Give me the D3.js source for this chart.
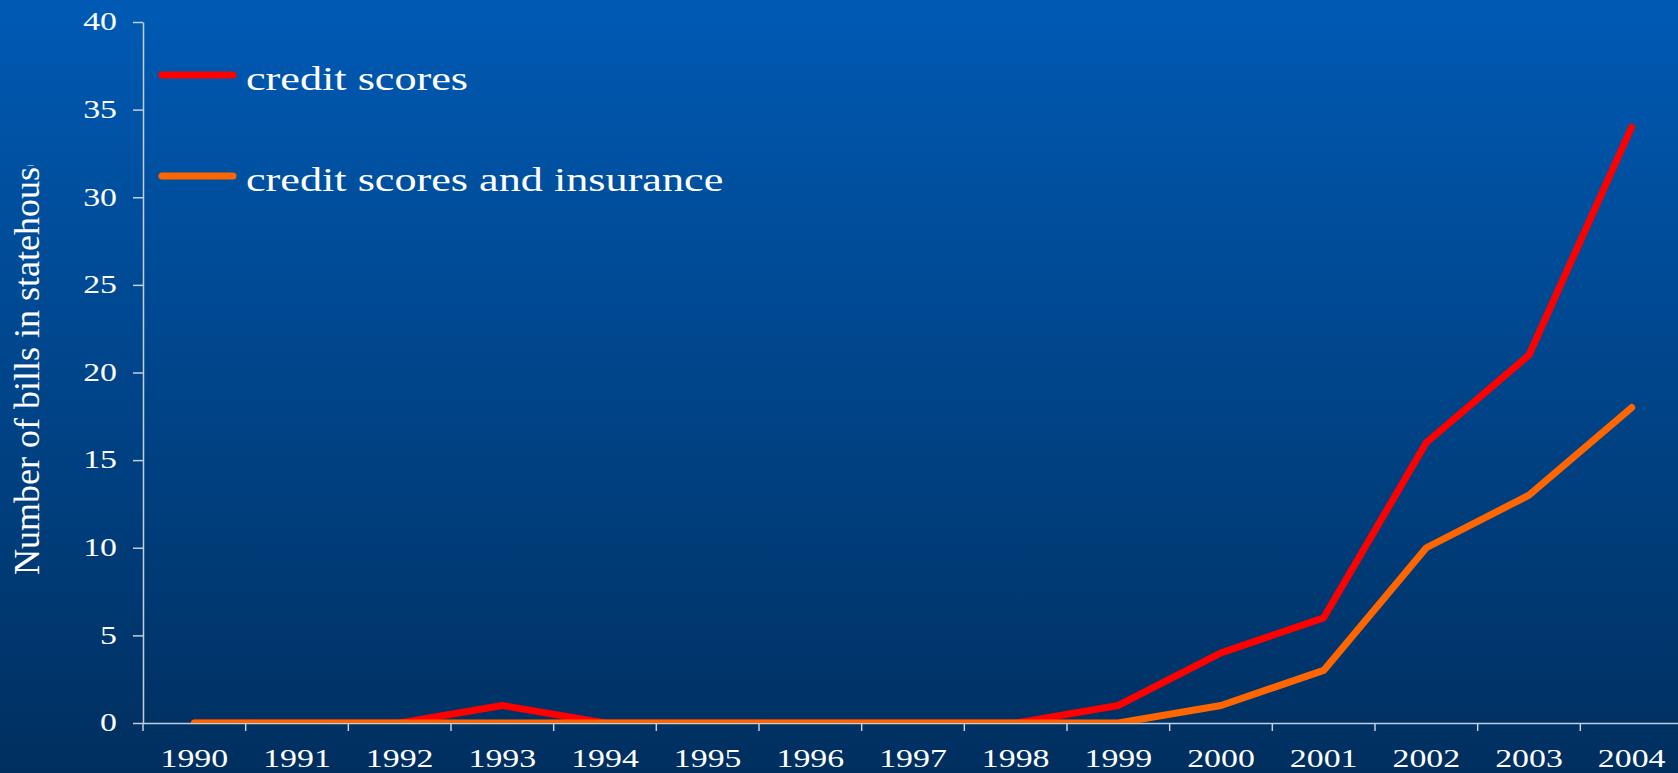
<!DOCTYPE html>
<html>
<head>
<meta charset="utf-8">
<script src="https://cdn.jsdelivr.net/npm/d3@7"></script>
<style>
  html, body { margin: 0; padding: 0; background: #003366; overflow: hidden; }
  svg { display: block; }
  text { font-family: "Liberation Serif", "Times New Roman", serif; fill: #ffffff; }
</style>
</head>
<body>
<svg id="chart" width="1678" height="773"></svg>
<script>
// Legislative activity: bills mentioning credit scores, by year
const years = ["1990","1991","1992","1993","1994","1995","1996","1997","1998","1999","2000","2001","2002","2003","2004"];
const creditScores = [0, 0, 0, 1, 0, 0, 0, 0, 0, 1, 4, 6, 16, 21, 34];
const creditScoresInsurance = [0, 0, 0, 0, 0, 0, 0, 0, 0, 0, 1, 3, 10, 13, 18];
const yTicks = [0, 5, 10, 15, 20, 25, 30, 35, 40];
const seriesNames = ["credit scores", "credit scores and insurance"];
const seriesColors = ["#ff0000", "#ff6600"];
const yTitle = "Number of bills in statehouse";

const W = 1678, H = 773;
const plotLeft = 143, plotRight = 1683, plotTop = 22, plotBottom = 723;
const stretch = 1.38;   // wide lettering used throughout the slide

const svg = d3.select("#chart");
const defs = svg.append("defs");

const grad = defs.append("linearGradient")
  .attr("id", "bg").attr("x1", 0).attr("y1", 0).attr("x2", 0).attr("y2", 1);
grad.append("stop").attr("offset", "0%").attr("stop-color", "#005ab4");
grad.append("stop").attr("offset", "100%").attr("stop-color", "#002f5f");
svg.append("rect").attr("width", W).attr("height", H).attr("fill", "url(#bg)");

const x = d3.scaleBand().domain(years).range([plotLeft, plotRight]).padding(0);
const y = d3.scaleLinear().domain([0, 40]).range([plotBottom, plotTop]);

defs.append("clipPath").attr("id", "plot")
  .append("rect").attr("x", 0).attr("y", 0).attr("width", W).attr("height", y(0));

defs.append("clipPath").attr("id", "titleClip")
  .append("rect").attr("x", 0).attr("y", 165).attr("width", 120).attr("height", 600);

const axisColor = "#c5cedb";

// Y axis
const yAxis = svg.append("g")
  .attr("transform", `translate(${plotLeft},0)`)
  .call(d3.axisLeft(y).tickValues(yTicks).tickSize(10).tickSizeOuter(0).tickPadding(16));
yAxis.select(".domain").attr("stroke", axisColor).attr("stroke-width", 1.5);
yAxis.selectAll(".tick line").attr("stroke", axisColor).attr("stroke-width", 1.5);
yAxis.selectAll(".tick text")
  .attr("x", 0).attr("dy", "0.32em")
  .attr("transform", `translate(-26,0) scale(${stretch},1)`)
  .style("font-size", "24.5px")
  .attr("fill", "#ffffff");

// X axis labels centred in each year slot
const xAxis = svg.append("g")
  .attr("transform", `translate(0,${y(0)})`)
  .call(d3.axisBottom(x).tickSize(0).tickSizeOuter(0));
xAxis.select(".domain").attr("stroke", axisColor).attr("stroke-width", 1.5);
xAxis.selectAll(".tick text")
  .attr("y", 0).attr("dy", 0)
  .attr("transform", `translate(0,44) scale(${stretch},1)`)
  .style("font-size", "24.5px")
  .attr("fill", "#ffffff");

// X tick marks sit on slot boundaries
xAxis.selectAll("line.boundary")
  .data(years.map(d => x(d)).concat([x(years[years.length - 1]) + x.bandwidth()]))
  .join("line")
  .attr("class", "boundary")
  .attr("x1", d => d).attr("x2", d => d)
  .attr("y1", 0).attr("y2", 8)
  .attr("stroke", axisColor).attr("stroke-width", 1.5);

// Series lines
const line = d3.line()
  .x((d, i) => x(years[i]) + x.bandwidth() / 2)
  .y(d => y(d));

const lines = svg.append("g").attr("clip-path", "url(#plot)");
[creditScores, creditScoresInsurance].forEach((vals, i) => {
  lines.append("path")
    .datum(vals)
    .attr("d", line)
    .attr("fill", "none")
    .attr("stroke", seriesColors[i])
    .attr("stroke-width", 7)
    .attr("stroke-linecap", "round")
    .attr("stroke-linejoin", "round");
});

// Legend
const legend = svg.append("g");
const legendRows = [75, 176];
seriesNames.forEach((name, i) => {
  const ly = legendRows[i];
  legend.append("line")
    .attr("x1", 162).attr("x2", 233)
    .attr("y1", ly).attr("y2", ly)
    .attr("stroke", seriesColors[i])
    .attr("stroke-width", 7)
    .attr("stroke-linecap", "round");
  legend.append("text")
    .attr("transform", `translate(246,${ly + 14.5}) scale(1.3,1)`)
    .style("font-size", "34px")
    .text(name);
});

// Y axis title
svg.append("g").attr("clip-path", "url(#titleClip)")
  .append("text")
  .attr("transform", "translate(39,575) rotate(-90)")
  .attr("text-anchor", "start")
  .style("font-size", "36px")
  .text(yTitle);
</script>
</body>
</html>
